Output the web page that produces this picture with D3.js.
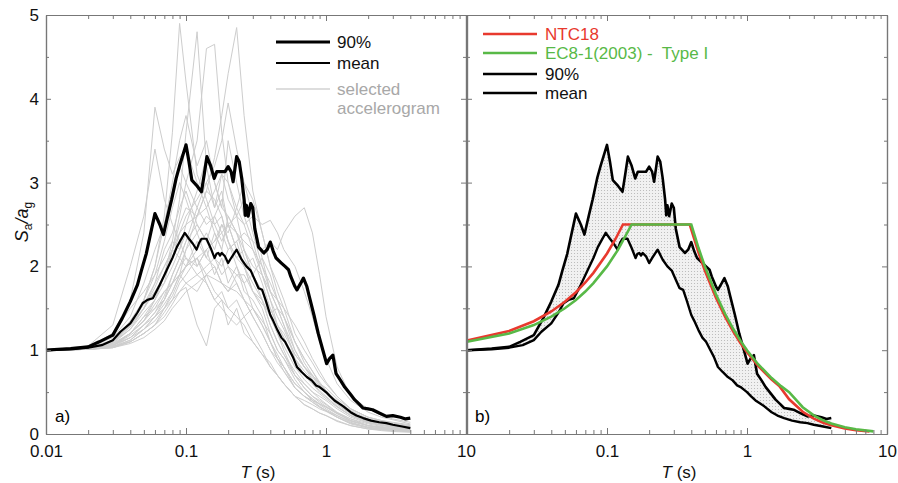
<!DOCTYPE html>
<html>
<head>
<meta charset="utf-8">
<script src="https://cdn.jsdelivr.net/npm/d3@7"></script>
<style>
  body { margin: 0; background: #fff; }
  svg { font-family: Arial, "Liberation Sans", sans-serif; }
</style>
</head>
<body>
<div id="svgDiv"></div>
<script>
// ---- data ----
// periods (s) of the selected accelerogram spectra
var greyT = [0.01, 0.02, 0.03, 0.04, 0.05, 0.06, 0.07, 0.08, 0.09, 0.1, 0.12, 0.14, 0.16, 0.18, 0.2, 0.23, 0.26, 0.3,
             0.35, 0.4, 0.45, 0.5, 0.6, 0.7, 0.8, 0.9, 1.0, 1.2, 1.5, 2.0, 2.5, 3.0, 4.0];
// normalised spectral ordinates Sa/ag of each accelerogram
var accelerograms = [
  [1.0,1.02,1.1,1.3,1.6,2.0,2.6,3.6,4.9,4.2,3.1,2.8,2.5,2.6,2.3,2.0,1.8,1.5,1.3,1.1,0.9,0.8,0.6,0.5,0.42,0.35,0.3,0.22,0.14,0.08,0.06,0.05,0.03],
  [1.0,1.01,1.05,1.2,1.4,1.6,1.9,2.3,2.8,3.6,4.8,3.2,2.7,2.9,2.5,2.2,2.0,1.7,1.5,1.2,1.0,0.9,0.7,0.55,0.45,0.38,0.33,0.25,0.16,0.1,0.07,0.05,0.04],
  [1.0,1.02,1.08,1.2,1.35,1.6,1.8,2.2,2.6,3.0,3.5,4.6,4.65,3.6,3.0,2.6,2.2,1.9,1.6,1.3,1.1,0.95,0.75,0.6,0.5,0.42,0.36,0.26,0.18,0.1,0.08,0.06,0.04],
  [1.0,1.01,1.04,1.15,1.3,1.45,1.6,1.8,2.0,2.2,2.6,2.9,3.3,3.8,4.3,4.85,3.8,2.9,2.4,2.0,1.7,1.5,1.1,0.9,0.75,0.6,0.5,0.36,0.24,0.15,0.12,0.1,0.07],
  [1.0,1.03,1.2,1.6,2.4,3.9,3.4,3.1,3.3,3.4,3.0,2.7,2.4,2.2,2.0,1.8,1.6,1.4,1.2,1.0,0.85,0.75,0.55,0.45,0.38,0.32,0.28,0.2,0.13,0.08,0.06,0.05,0.03],
  [1.0,1.02,1.1,1.25,1.5,1.7,1.9,2.1,2.4,2.6,2.8,3.0,3.2,3.5,3.95,3.4,3.0,2.6,2.1,1.7,1.5,1.3,1.0,0.8,0.65,0.55,0.48,0.35,0.24,0.14,0.11,0.09,0.06],
  [1.0,1.02,1.1,1.3,1.6,2.0,2.5,3.0,3.5,3.8,3.2,3.5,3.0,2.7,2.6,2.4,2.2,1.9,1.7,1.4,1.2,1.0,0.7,0.55,0.45,0.4,0.35,0.25,0.16,0.1,0.07,0.05,0.04],
  [1.0,1.01,1.03,1.1,1.2,1.3,1.4,1.55,1.7,1.8,1.9,2.0,2.1,2.0,2.2,2.3,2.4,2.3,2.2,2.3,2.2,2.4,2.6,2.7,2.4,1.9,1.4,0.8,0.45,0.3,0.22,0.18,0.14],
  [1.0,1.01,1.04,1.12,1.25,1.4,1.55,1.7,1.9,2.0,2.1,2.2,2.3,2.4,2.5,2.6,2.5,2.6,2.5,2.55,2.4,2.2,2.0,1.7,1.4,1.1,0.9,0.6,0.4,0.26,0.2,0.17,0.12],
  [1.0,1.01,1.03,1.08,1.15,1.25,1.35,1.5,1.6,1.7,1.8,1.9,1.85,1.8,1.75,1.7,1.6,1.5,1.35,1.2,1.0,0.9,0.65,0.5,0.4,0.33,0.28,0.2,0.12,0.07,0.05,0.04,0.03],
  [1.0,1.02,1.06,1.15,1.3,1.4,1.5,1.6,1.7,1.75,1.3,1.05,1.5,1.6,1.3,1.5,1.2,1.1,0.95,0.85,0.7,0.6,0.45,0.35,0.3,0.25,0.22,0.15,0.1,0.06,0.04,0.03,0.02],
  [1.0,1.03,1.15,1.4,1.8,2.2,2.5,2.9,3.2,3.0,2.7,2.5,2.6,2.4,2.2,2.3,2.0,1.8,1.6,1.3,1.1,0.95,0.7,0.6,0.5,0.45,0.4,0.3,0.2,0.13,0.1,0.08,0.05],
  [1.0,1.02,1.08,1.25,1.45,1.6,1.9,2.2,2.4,2.5,2.6,2.7,2.9,3.1,2.8,2.6,2.8,2.4,2.0,1.7,1.5,1.3,0.9,0.75,0.65,0.58,0.5,0.4,0.28,0.18,0.14,0.12,0.09],
  [1.0,1.01,1.05,1.2,1.35,1.5,1.7,1.8,2.0,2.1,2.0,2.2,2.3,2.5,2.4,2.7,3.0,2.8,2.4,2.0,1.8,1.6,1.2,1.0,0.85,0.7,0.6,0.45,0.3,0.2,0.15,0.12,0.09],
  [1.0,1.02,1.1,1.3,1.5,1.75,2.0,2.2,2.1,2.0,2.1,1.9,1.7,1.6,1.5,1.6,1.4,1.2,1.0,0.8,0.7,0.6,0.45,0.4,0.35,0.3,0.27,0.2,0.13,0.08,0.06,0.05,0.03],
  [1.0,1.03,1.2,1.5,1.7,1.9,2.1,2.3,2.2,2.4,2.0,2.2,1.9,2.1,1.8,2.0,1.7,1.6,1.4,1.1,0.95,0.8,0.55,0.45,0.38,0.32,0.28,0.22,0.15,0.1,0.08,0.06,0.04],
  [1.0,1.01,1.04,1.1,1.2,1.3,1.5,1.7,1.9,2.0,2.2,2.4,2.2,2.5,2.3,2.1,2.2,2.0,1.9,1.6,1.3,1.15,0.9,0.7,0.6,0.52,0.45,0.33,0.22,0.14,0.11,0.08,0.06],
  [1.0,1.02,1.06,1.2,1.4,1.5,1.6,1.9,2.1,2.3,2.5,2.3,2.1,1.9,2.0,1.9,1.8,1.9,2.1,1.9,1.6,1.4,1.0,0.8,0.7,0.6,0.5,0.36,0.25,0.16,0.12,0.1,0.07],
  [1.0,1.05,1.3,2.0,2.6,3.4,2.8,2.5,2.3,2.1,1.9,1.8,1.6,1.7,1.5,1.4,1.3,1.1,0.95,0.8,0.7,0.6,0.45,0.35,0.3,0.25,0.22,0.16,0.1,0.06,0.05,0.04,0.03],
  [1.0,1.02,1.1,1.3,1.5,1.7,1.8,2.0,2.2,2.5,2.9,3.3,3.0,2.7,3.5,3.0,2.6,2.3,1.9,1.6,1.4,1.25,0.95,0.8,0.7,0.6,0.55,0.42,0.3,0.2,0.16,0.13,0.1],
  [1.0,1.01,1.03,1.1,1.2,1.3,1.45,1.6,1.8,1.9,2.1,1.8,1.6,1.5,1.4,1.3,1.4,1.5,1.3,1.1,0.9,0.75,0.55,0.45,0.4,0.36,0.32,0.25,0.18,0.12,0.09,0.07,0.05],
  [1.0,1.02,1.07,1.2,1.35,1.55,1.7,1.8,1.9,2.2,2.4,2.6,2.5,2.3,2.5,2.2,2.0,1.7,1.55,1.45,1.5,1.4,1.1,0.9,0.75,0.62,0.52,0.38,0.26,0.16,0.13,0.1,0.08],
  [1.0,1.02,1.09,1.28,1.5,1.8,2.2,2.4,2.7,2.9,2.5,2.3,2.6,2.8,2.5,2.4,2.1,1.9,1.7,1.5,1.3,1.15,0.85,0.7,0.6,0.5,0.44,0.33,0.22,0.14,0.11,0.09,0.06],
  [1.0,1.01,1.04,1.12,1.25,1.35,1.5,1.65,1.85,2.0,2.3,2.1,2.4,2.2,2.6,2.4,2.3,2.2,1.9,1.7,1.6,1.5,1.3,1.1,0.9,0.75,0.62,0.45,0.3,0.2,0.16,0.14,0.11],
  [1.0,1.02,1.1,1.35,1.6,1.9,2.3,2.7,3.0,2.8,2.4,2.1,2.0,1.8,1.7,1.8,1.6,1.4,1.2,1.0,0.9,0.8,0.6,0.5,0.42,0.36,0.32,0.24,0.16,0.1,0.08,0.06,0.04],
  [1.0,1.01,1.05,1.18,1.3,1.45,1.65,1.9,2.1,2.3,2.7,3.0,2.7,3.1,3.0,2.7,2.5,2.2,2.0,1.8,1.6,1.4,1.1,0.85,0.7,0.6,0.52,0.38,0.26,0.17,0.13,0.11,0.08],
  [1.0,1.02,1.06,1.15,1.25,1.4,1.6,1.8,1.9,1.8,1.7,1.9,2.0,1.8,1.7,1.9,1.9,1.7,1.6,1.4,1.2,1.05,0.8,0.65,0.55,0.48,0.42,0.32,0.22,0.14,0.11,0.09,0.07],
  [1.0,1.03,1.12,1.3,1.55,1.8,2.0,2.2,2.5,2.7,2.6,2.9,2.8,2.6,2.3,2.1,2.0,2.1,1.8,1.5,1.3,1.2,0.95,0.8,0.68,0.58,0.5,0.38,0.26,0.17,0.13,0.1,0.08]
];

// 90% fractile spectrum
var p90T = [0.01,0.015,0.02,0.024,0.03,0.035,0.04,0.045,0.048,0.052,0.056,0.06,0.065,0.069,0.074,0.079,0.085,0.09,0.1,
            0.105,0.11,0.12,0.129,0.135,0.141,0.15,0.159,0.166,0.18,0.19,0.2,0.21,0.217,0.23,0.24,0.25,0.26,0.265,
            0.27,0.278,0.29,0.3,0.31,0.33,0.36,0.38,0.4,0.42,0.44,0.48,0.51,0.54,0.56,0.6,0.62,0.66,0.69,0.73,0.76,
            0.82,0.88,0.95,1.01,1.06,1.12,1.18,1.27,1.36,1.5,1.6,1.72,1.84,2.0,2.15,2.4,2.7,3.0,3.4,3.7,4.0];
var p90V = [1.0,1.02,1.04,1.1,1.18,1.38,1.58,1.78,1.95,2.15,2.4,2.63,2.5,2.38,2.6,2.8,3.05,3.2,3.45,
            3.25,3.03,2.96,2.89,3.1,3.31,3.2,3.05,3.13,3.13,3.13,3.19,3.13,3.01,3.31,3.25,3.05,2.8,2.61,
            2.73,2.6,2.75,2.7,2.45,2.23,2.16,2.2,2.29,2.18,2.1,2.04,2.0,1.96,1.88,1.76,1.72,1.8,1.86,1.76,1.64,
            1.42,1.2,1.0,0.84,0.9,0.94,0.72,0.64,0.56,0.47,0.41,0.36,0.31,0.3,0.29,0.25,0.21,0.22,0.2,0.18,0.19];

// mean spectrum
var meanT = [0.01,0.015,0.02,0.025,0.03,0.034,0.04,0.045,0.049,0.053,0.058,0.065,0.073,0.08,0.086,0.092,0.098,
             0.105,0.112,0.119,0.124,0.129,0.14,0.15,0.16,0.165,0.17,0.175,0.18,0.19,0.2,0.21,0.23,0.25,0.27,
             0.29,0.31,0.33,0.35,0.37,0.4,0.42,0.45,0.48,0.51,0.54,0.58,0.62,0.67,0.73,0.79,0.85,0.9,0.95,1.0,
             1.07,1.15,1.25,1.33,1.5,1.65,1.84,2.1,2.4,2.7,3.0,3.5,4.0];
var meanV = [1.0,1.01,1.03,1.06,1.12,1.22,1.32,1.45,1.56,1.6,1.62,1.78,1.96,2.1,2.23,2.32,2.4,
             2.33,2.27,2.2,2.28,2.33,2.33,2.22,2.1,2.15,2.16,2.13,2.16,2.12,2.04,2.1,2.2,2.08,2.0,
             1.95,1.84,1.74,1.72,1.6,1.42,1.35,1.24,1.15,1.1,1.02,0.92,0.8,0.74,0.68,0.64,0.58,0.56,0.53,0.5,
             0.45,0.4,0.36,0.33,0.26,0.22,0.19,0.16,0.14,0.13,0.11,0.09,0.07];

// NTC18 normalised elastic spectrum
var ntcT = [0.01,0.02,0.03,0.04,0.05,0.06,0.07,0.08,0.1,0.115,0.13,0.39,0.45,0.5,0.6,0.7,0.8,0.9,1.0,1.2,1.5,1.7,
            2.0,2.5,3.0,3.5,4.0,5.0,6.0,7.5];
var ntcV = [1.115,1.23,1.346,1.462,1.577,1.692,1.808,1.923,2.154,2.327,2.5,2.5,2.167,1.95,1.625,1.393,1.219,1.083,0.975,0.8125,0.65,0.574,
            0.414,0.265,0.184,0.135,0.104,0.066,0.046,0.029];

// EC8-1(2003) Type I normalised elastic spectrum
var ec8T = [0.01,0.02,0.03,0.04,0.05,0.06,0.07,0.08,0.1,0.12,0.15,0.4,0.45,0.5,0.6,0.7,0.8,0.9,1.0,1.2,1.5,1.75,
            2.0,2.5,3.0,3.5,4.0,5.0,6.0,8.0];
var ec8V = [1.1,1.2,1.3,1.4,1.5,1.6,1.7,1.8,2.0,2.2,2.5,2.5,2.222,2.0,1.667,1.429,1.25,1.111,1.0,0.833,0.667,0.571,
            0.5,0.32,0.222,0.163,0.125,0.08,0.056,0.031];

var xMajor = [0.01, 0.1, 1, 10];
var xLabelsA = ["0.01", "0.1", "1", "10"];
var xLabelsB = ["", "0.1", "1", "10"];
var yMajor = [0, 1, 2, 3, 4, 5];
var yMinor = [0.5, 1.5, 2.5, 3.5, 4.5];

// ---- layout ----
var W = 898, H = 483;
var plotTop = 15, plotBottom = 434;
var axisColor = "#777";
var red = "#e8392e", green = "#58b947", greyLine = "#cdcdcd";

var svg = d3.select("#svgDiv").append("svg")
            .attr("width", W).attr("height", H);

// dotted fill for the band between mean and 90%
var pat = svg.append("defs").append("pattern")
             .attr("id", "dots").attr("patternUnits", "userSpaceOnUse")
             .attr("width", 3).attr("height", 3);
pat.append("rect").attr("width", 3).attr("height", 3).attr("fill", "#f1f1f1");
pat.append("circle").attr("cx", 1.5).attr("cy", 1.5).attr("r", 0.55).attr("fill", "#b4b4b4");

var y = d3.scaleLinear().domain([0, 5]).range([plotBottom, plotTop]);
var xA = d3.scaleLog().domain([0.01, 10]).range([46, 466]);
var xB = d3.scaleLog().domain([0.01, 10]).range([467, 887]);

var xMinor = [];
[0.01, 0.1, 1].forEach(function(d){ for (var k = 2; k < 10; k++) xMinor.push(d * k); });

function pairs(ts, vs){ return ts.map(function(t, i){ return [t, vs[i]]; }); }

function drawFrame(x, labels, showY){
  var g = svg.append("g");
  var r = x.range();
  // bottom
  g.append("g").attr("transform", "translate(0," + plotBottom + ")")
   .call(d3.axisBottom(x).tickValues(xMajor).tickSize(-6).tickSizeOuter(0).tickPadding(11)
           .tickFormat(function(d, i){ return labels[i]; }));
  g.append("g").attr("transform", "translate(0," + plotBottom + ")")
   .call(d3.axisBottom(x).tickValues(xMinor).tickSize(-4).tickSizeOuter(0).tickFormat(""));
  // top
  g.append("g").attr("transform", "translate(0," + plotTop + ")")
   .call(d3.axisTop(x).tickValues(xMajor).tickSize(-6).tickSizeOuter(0).tickFormat(""));
  g.append("g").attr("transform", "translate(0," + plotTop + ")")
   .call(d3.axisTop(x).tickValues(xMinor).tickSize(-4).tickSizeOuter(0).tickFormat(""));
  // left
  g.append("g").attr("transform", "translate(" + r[0] + ",0)")
   .call(d3.axisLeft(y).tickValues(yMajor).tickSize(-5).tickSizeOuter(0).tickPadding(7)
           .tickFormat(showY ? d3.format("d") : ""));
  g.append("g").attr("transform", "translate(" + r[0] + ",0)")
   .call(d3.axisLeft(y).tickValues(yMinor).tickSize(-3).tickSizeOuter(0).tickFormat(""));
  // right
  g.append("g").attr("transform", "translate(" + r[1] + ",0)")
   .call(d3.axisRight(y).tickValues(yMajor).tickSize(-5).tickSizeOuter(0).tickFormat(""));
  g.append("g").attr("transform", "translate(" + r[1] + ",0)")
   .call(d3.axisRight(y).tickValues(yMinor).tickSize(-3).tickSizeOuter(0).tickFormat(""));

  g.selectAll(".domain").attr("stroke", axisColor).attr("stroke-width", 1.2);
  g.selectAll(".tick line").attr("stroke", axisColor).attr("stroke-width", 1);
  g.selectAll("text").attr("fill", "#111").style("font-family", "Arial, 'Liberation Sans', sans-serif")
   .style("font-size", "17px");

  // axis title
  var t = svg.append("text").attr("x", (r[0] + r[1]) / 2 + 2).attr("y", 478)
             .attr("text-anchor", "middle").style("font-size", "17px").attr("fill", "#111");
  t.append("tspan").style("font-style", "italic").text("T");
  t.append("tspan").text(" (s)");
}

var line = function(x){
  return d3.line().x(function(d){ return x(d[0]); }).y(function(d){ return y(d[1]); });
};

// ---- panel a ----
var gA = svg.append("g");
gA.selectAll("path.acc").data(accelerograms).enter().append("path")
  .attr("class", "acc")
  .attr("d", function(v){ return line(xA)(pairs(greyT, v)); })
  .attr("fill", "none").attr("stroke", greyLine).attr("stroke-width", 1);
gA.append("path").attr("d", line(xA)(pairs(meanT, meanV)))
  .attr("fill", "none").attr("stroke", "#000").attr("stroke-width", 2.2).attr("stroke-linejoin", "round");
gA.append("path").attr("d", line(xA)(pairs(p90T, p90V)))
  .attr("fill", "none").attr("stroke", "#000").attr("stroke-width", 3.2).attr("stroke-linejoin", "round");

// ---- panel b ----
var gB = svg.append("g");
var band = pairs(p90T, p90V).concat(pairs(meanT, meanV).reverse());
gB.append("path").attr("d", line(xB)(band) + "Z")
  .attr("fill", "url(#dots)").attr("stroke", "none");
gB.append("path").attr("d", line(xB)(pairs(p90T, p90V)))
  .attr("fill", "none").attr("stroke", "#000").attr("stroke-width", 2.6).attr("stroke-linejoin", "round");
gB.append("path").attr("d", line(xB)(pairs(meanT, meanV)))
  .attr("fill", "none").attr("stroke", "#000").attr("stroke-width", 2.4).attr("stroke-linejoin", "round");
gB.append("path").attr("d", line(xB)(pairs(ntcT, ntcV)))
  .attr("fill", "none").attr("stroke", red).attr("stroke-width", 2.6);
gB.append("path").attr("d", line(xB)(pairs(ec8T, ec8V)))
  .attr("fill", "none").attr("stroke", green).attr("stroke-width", 2.6);

drawFrame(xA, xLabelsA, true);
drawFrame(xB, xLabelsB, false);

// y axis title
var yt = svg.append("text").attr("transform", "translate(28,222) rotate(-90)")
            .attr("text-anchor", "middle").style("font-size", "18px").attr("fill", "#111");
yt.append("tspan").style("font-style", "italic").text("S");
yt.append("tspan").style("font-size", "12px").attr("dy", 4).text("a");
yt.append("tspan").attr("dy", -4).style("font-style", "italic").text("/a");
yt.append("tspan").style("font-size", "12px").attr("dy", 4).text("g");

// panel tags
svg.append("text").attr("x", 55).attr("y", 422).style("font-size", "17px").text("a)");
svg.append("text").attr("x", 475).attr("y", 422).style("font-size", "17px").text("b)");

// ---- legends ----
var legA = [
  {label: "90%", color: "#000", w: 3.2, y: 42, col: "#111"},
  {label: "mean", color: "#000", w: 2.2, y: 63, col: "#111"},
  {label: "selected", color: "#d2d2d2", w: 1.5, y: 89, col: "#a8a8a8"}
];
legA.forEach(function(d){
  svg.append("line").attr("x1", 276).attr("x2", 330).attr("y1", d.y).attr("y2", d.y)
     .attr("stroke", d.color).attr("stroke-width", d.w);
  svg.append("text").attr("x", 337).attr("y", d.y + 6).style("font-size", "17px")
     .attr("fill", d.col).text(d.label);
});
svg.append("text").attr("x", 337).attr("y", 114).style("font-size", "17px")
   .attr("fill", "#a8a8a8").text("accelerogram");

var legB = [
  {label: "NTC18", color: red, y: 34, col: red},
  {label: "EC8-1(2003) -  Type I", color: green, y: 53, col: green},
  {label: "90%", color: "#000", y: 74, col: "#111"},
  {label: "mean", color: "#000", y: 93, col: "#111"}
];
legB.forEach(function(d){
  svg.append("line").attr("x1", 483).attr("x2", 537).attr("y1", d.y).attr("y2", d.y)
     .attr("stroke", d.color).attr("stroke-width", 2.6);
  svg.append("text").attr("x", 545).attr("y", d.y + 6).style("font-size", "17px")
     .style("white-space", "pre").attr("fill", d.col).text(d.label);
});
</script>
</body>
</html>
